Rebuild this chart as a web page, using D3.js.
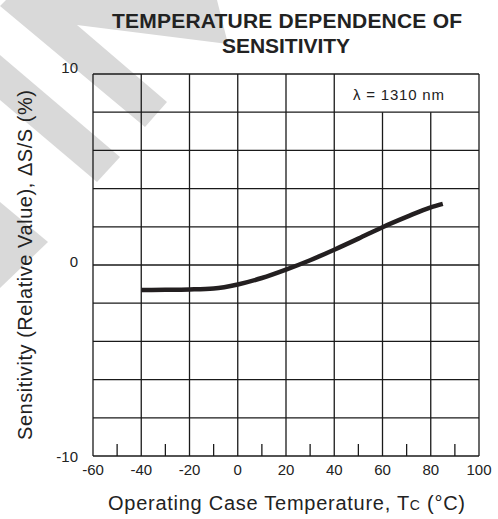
<!DOCTYPE html>
<html>
<head>
<meta charset="utf-8">
<script src="https://cdn.jsdelivr.net/npm/d3@7"></script>
<style>
  body { margin: 0; background: #fff; }
  svg { display: block; font-family: "Liberation Sans", Arial, sans-serif; }
</style>
</head>
<body>
<svg id="chart"></svg>
<script>
// values
const tempC = [-40, -30, -20, -10, 0, 10, 20, 30, 40, 50, 60, 70, 80, 85];
const sensitivity = [-1.31, -1.3, -1.28, -1.23, -1.02, -0.68, -0.24, 0.25, 0.8, 1.38, 1.98, 2.52, 3.02, 3.2];
const xTicks = [-60, -40, -20, 0, 20, 40, 60, 80, 100];
const xMinorTicks = [-50, -30, -10, 10, 30, 50, 70, 90];
const yGrid = [-10, -8, -6, -4, -2, 0, 2, 4, 6, 8, 10];
const yLabels = [10, 0, -10];

const width = 498;
const height = 519;
const margin_left = 93;
const margin_top = 74;
const plot_w = 479 - margin_left;
const plot_h = 456 - margin_top;

const svg = d3.select("#chart").attr("width", width).attr("height", height);

// faded watermark stripes behind everything
const wm = svg.append("g").attr("fill", "#d9d9d9");
[
  [[0,6],[145,127],[167,102],[77,25],[228,44],[217,0],[6,0]],
  [[0,55],[120,157],[97,182],[0,100]],
  [[0,202],[48,242],[0,288]]
].forEach(p => wm.append("polygon").attr("points", p.map(d => d.join(",")).join(" ")));

const x = d3.scaleLinear().domain([-60, 100]).range([0, plot_w]);
const y = d3.scaleLinear().domain([-10, 10]).range([plot_h, 0]);

const g = svg.append("g").attr("transform", "translate(" + margin_left + "," + margin_top + ")");

// horizontal grid
g.selectAll(".hgrid").data(yGrid).enter().append("line")
  .attr("x1", 0).attr("x2", plot_w)
  .attr("y1", d => y(d)).attr("y2", d => y(d))
  .attr("stroke", "#1a1a1a").attr("stroke-width", 1.3);

// vertical grid (top row is open from 40 to 100 for the label)
g.selectAll(".vgrid").data(xTicks).enter().append("line")
  .attr("x1", d => x(d)).attr("x2", d => x(d))
  .attr("y1", d => (d > 40 && d < 100) ? y(8) : 0)
  .attr("y2", plot_h)
  .attr("stroke", "#1a1a1a").attr("stroke-width", 1.3);

// minor ticks on the bottom edge
g.selectAll(".minor").data(xMinorTicks).enter().append("line")
  .attr("x1", d => x(d)).attr("x2", d => x(d))
  .attr("y1", plot_h).attr("y2", plot_h - 12)
  .attr("stroke", "#1a1a1a").attr("stroke-width", 1.3);

// tick labels
g.selectAll(".xlab").data(xTicks).enter().append("text")
  .attr("x", d => x(d)).attr("y", plot_h + 19)
  .attr("text-anchor", "middle").style("font-size", "15px").attr("fill", "#222")
  .text(d => d);

g.selectAll(".ylab").data(yLabels).enter().append("text")
  .attr("x", -15).attr("y", d => y(d) + (d == 10 ? -1 : d == 0 ? 2 : 6))
  .attr("text-anchor", "end").style("font-size", "15px").attr("fill", "#222")
  .text(d => d);

// curve
const line = d3.line()
  .x((d, i) => x(tempC[i]))
  .y(d => y(d))
  .curve(d3.curveMonotoneX);

g.append("path")
  .datum(sensitivity)
  .attr("d", line)
  .attr("fill", "none")
  .attr("stroke", "#231f20")
  .attr("stroke-width", 4.5);

// wavelength note
g.append("text")
  .attr("x", 398.5 - margin_left).attr("y", 100 - margin_top)
  .attr("text-anchor", "middle").style("font-size", "15px").attr("fill", "#222")
  .attr("textLength", 91).attr("lengthAdjust", "spacing")
  .text("\u03bb = 1310 nm");

// titles
svg.append("text")
  .attr("x", 287).attr("y", 28).attr("text-anchor", "middle")
  .style("font-size", "21px").style("font-weight", "bold").attr("fill", "#222")
  .attr("textLength", 350).attr("lengthAdjust", "spacing")
  .text("TEMPERATURE DEPENDENCE OF");
svg.append("text")
  .attr("x", 286).attr("y", 53).attr("text-anchor", "middle")
  .style("font-size", "21px").style("font-weight", "bold").attr("fill", "#222")
  .attr("textLength", 128).attr("lengthAdjust", "spacing")
  .text("SENSITIVITY");

const xt = svg.append("text")
  .attr("x", 286.5).attr("y", 510).attr("text-anchor", "middle")
  .style("font-size", "20px").attr("fill", "#222")
  .attr("textLength", 357).attr("lengthAdjust", "spacing");
xt.append("tspan").text("Operating Case Temperature, T");
xt.append("tspan").style("font-size", "14px").text("C");
xt.append("tspan").text(" (\u00b0C)");

svg.append("text")
  .attr("transform", "translate(32,265) rotate(-90)")
  .attr("text-anchor", "middle")
  .style("font-size", "20px").attr("fill", "#222")
  .attr("textLength", 350).attr("lengthAdjust", "spacing")
  .text("Sensitivity (Relative Value), \u0394S/S (%)");
</script>
</body>
</html>
